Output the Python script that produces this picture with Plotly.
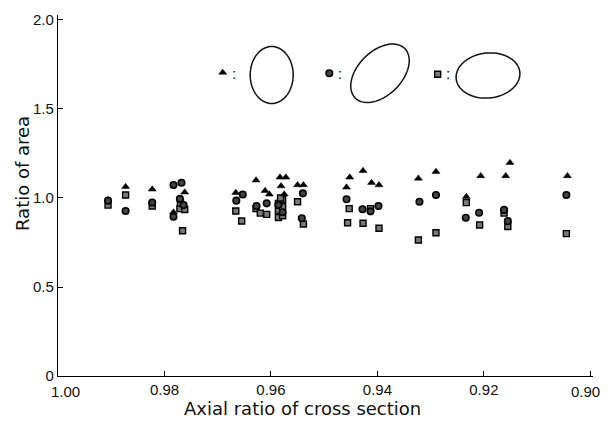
import plotly.graph_objects as go
import math

# Data: axial ratio (x) vs ratio of area (y)
tri_x = [0.9873, 0.9823, 0.9762, 0.9783, 0.9666, 0.9628, 0.9611, 0.9603, 0.9583, 0.9572,
         0.9581, 0.9575, 0.9550, 0.9539, 0.9452, 0.9458, 0.9427, 0.9411, 0.9397, 0.9323,
         0.9290, 0.9151, 0.9206, 0.9159, 0.9233, 0.9043]
tri_y = [1.063, 1.049, 1.032, 0.920, 1.030, 1.100, 1.041, 1.021, 1.116, 1.116,
         1.067, 1.021, 1.073, 1.073, 1.116, 1.060, 1.153, 1.086, 1.073, 1.110,
         1.148, 1.198, 1.124, 1.124, 1.007, 1.124]

cir_x = [0.9906, 0.9873, 0.9823, 0.9783, 0.9768, 0.9771, 0.9783, 0.9764, 0.9665, 0.9653,
         0.9627, 0.9608, 0.9578, 0.9586, 0.9540, 0.9542, 0.9458, 0.9428, 0.9413, 0.9398,
         0.9321, 0.9290, 0.9234, 0.9209, 0.9162, 0.9155, 0.9045]
cir_y = [0.985, 0.927, 0.975, 1.073, 1.086, 0.995, 0.895, 0.960, 0.985, 1.020,
         0.955, 0.970, 0.920, 0.960, 1.026, 0.886, 0.993, 0.937, 0.925, 0.955,
         0.979, 1.017, 0.889, 0.917, 0.933, 0.870, 1.017]

sq_x = [0.9906, 0.9873, 0.9823, 0.9771, 0.9762, 0.9770, 0.9766, 0.9666, 0.9655, 0.9628,
        0.9608, 0.9620, 0.9586, 0.9578, 0.9586, 0.9578, 0.9586, 0.9578, 0.9582, 0.9550,
        0.9539, 0.9453, 0.9456, 0.9427, 0.9413, 0.9397, 0.9323, 0.9290, 0.9233, 0.9208,
        0.9162, 0.9155, 0.9045]
sq_y = [0.960, 1.017, 0.955, 0.940, 0.935, 0.972, 0.816, 0.927, 0.871, 0.940,
        0.908, 0.915, 0.890, 0.900, 0.930, 0.950, 0.970, 0.990, 1.000, 0.979,
        0.854, 0.940, 0.861, 0.858, 0.940, 0.830, 0.764, 0.805, 0.974, 0.848,
        0.915, 0.840, 0.800]

x_ticks = [1.00, 0.98, 0.96, 0.94, 0.92, 0.90]
x_labels = ["", "0.98", "0.96", "0.94", "0.92", ""]
x_first_label = "1.00"
x_last_label = "0.90"
y_ticks = [0, 0.5, 1.0, 1.5, 2.0]
y_labels = ["0", "0.5", "1.0", "1.5", "2.0"]

# Target pixel layout in the screenshot; page body has an 8px margin
OFF = 8
L, R, T, B = 58, 593, 15, 376
SW, SH = 608, 429
W, H = SW - 2 * OFF, SH - 2 * OFF

fig = go.Figure()
sq_marker = dict(symbol="square", size=6, color="#7a7a7a", line=dict(color="black", width=1.4))
ci_marker = dict(symbol="circle", size=6.5, color="#444444", line=dict(color="black", width=1.6))
tr_marker = dict(symbol="triangle-up", size=7, color="black", line=dict(color="black", width=0.5))

fig.add_trace(go.Scatter(x=sq_x, y=sq_y, mode="markers", marker=sq_marker))
fig.add_trace(go.Scatter(x=cir_x, y=cir_y, mode="markers", marker=ci_marker))
fig.add_trace(go.Scatter(x=tri_x, y=tri_y, mode="markers", marker=tr_marker))

# Inset legend markers on pixel overlay axes
fig.add_trace(go.Scatter(x=[222.7], y=[72.5], xaxis="x2", yaxis="y2", mode="markers", marker=tr_marker))
fig.add_trace(go.Scatter(x=[329.3], y=[73.3], xaxis="x2", yaxis="y2", mode="markers", marker=ci_marker))
fig.add_trace(go.Scatter(x=[437.7], y=[74.3], xaxis="x2", yaxis="y2", mode="markers", marker=sq_marker))


def ellipse_path(cx, cy, a, b, ang_deg, n=72):
    th = math.radians(ang_deg)
    pts = []
    for i in range(n):
        t = 2 * math.pi * i / n
        ex, ey = a * math.cos(t), b * math.sin(t)
        px = cx + ex * math.cos(th) + ey * math.sin(th)
        py = cy - ex * math.sin(th) + ey * math.cos(th)
        pts.append((px, py))
    return "M " + " L ".join(f"{p[0]:.2f},{p[1]:.2f}" for p in pts) + " Z"


shapes = []
for cx, cy, a, b, ang in [(271.7, 75.0, 21.5, 28.5, 0),
                          (380.0, 73.3, 35.0, 22.0, 45),
                          (488.0, 75.5, 32.0, 22.5, 6)]:
    shapes.append(dict(type="path", xref="x2", yref="y2",
                       path=ellipse_path(cx, cy, a, b, ang),
                       line=dict(color="#111111", width=1.5)))

annotations = []
for cx in [234, 340, 448]:
    annotations.append(dict(x=cx, y=73, xref="x2", yref="y2", text=":", showarrow=False,
                            xanchor="center", yanchor="middle",
                            font=dict(family="Liberation Sans", size=15, color="black")))

tick_font = dict(family="Liberation Sans", size=15, color="#111111")
annotations.append(dict(x=(65 - L) / (R - L), y=(B - 391) / (B - T), xref="paper", yref="paper",
                        text=x_first_label, showarrow=False, xanchor="center", yanchor="middle",
                        font=tick_font))
annotations.append(dict(x=(585 - L) / (R - L), y=(B - 391) / (B - T), xref="paper", yref="paper",
                        text=x_last_label, showarrow=False, xanchor="center", yanchor="middle",
                        font=tick_font))
annotations.append(dict(x=(302 - L) / (R - L), y=(B - 408) / (B - T), xref="paper", yref="paper",
                        text="Axial ratio of cross section", showarrow=False,
                        xanchor="center", yanchor="middle",
                        font=dict(family="DejaVu Sans", size=18, color="#111111")))
annotations.append(dict(x=(22 - L) / (R - L), y=(B - 174) / (B - T), xref="paper", yref="paper",
                        text="Ratio of area", showarrow=False, textangle=-90,
                        xanchor="center", yanchor="middle",
                        font=dict(family="DejaVu Sans", size=18, color="#111111")))

fig.update_layout(
    width=W, height=H,
    margin=dict(l=L - OFF, r=W + OFF - R, t=T - OFF, b=H + OFF - B, autoexpand=False),
    paper_bgcolor="white", plot_bgcolor="white",
    showlegend=False,
    font=tick_font,
    xaxis=dict(range=[1.0, 0.8995], tickvals=x_ticks, ticktext=x_labels,
               ticks="inside", ticklen=5, tickcolor="black", showgrid=False, zeroline=False,
               showline=True, linecolor="black", linewidth=1.3, mirror=False),
    yaxis=dict(range=[0, 2.028], tickvals=y_ticks, ticktext=y_labels,
               ticks="inside", ticklen=5, tickcolor="black", showgrid=False, zeroline=False,
               showline=True, linecolor="black", linewidth=1.3, mirror=False),
    xaxis2=dict(range=[L, R], overlaying="x", visible=False, fixedrange=True),
    yaxis2=dict(range=[B, T], overlaying="y", visible=False, fixedrange=True),
    shapes=shapes,
    annotations=annotations,
)

fig.write_html("out.html")
